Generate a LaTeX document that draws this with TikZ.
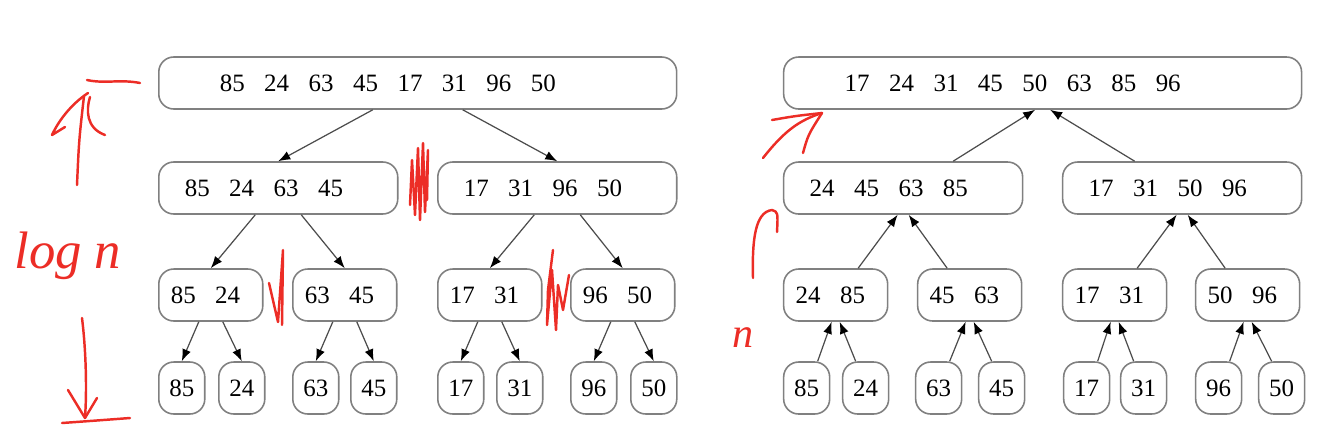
\documentclass[tikz,border=0pt]{standalone}
\usepackage{fontspec}
\setmainfont{Liberation Serif}
\usetikzlibrary{arrows.meta}
\definecolor{pen}{RGB}{236,45,38}
\definecolor{boxline}{RGB}{128,128,128}
\newcommand\kg{\hspace{0.39cm}}
\tikzset{
  keybox/.style={draw=boxline,line width=0.9pt,rounded corners=0.3cm,anchor=west,
    minimum height=1.04cm,text height=0.34cm,text depth=0cm,
    font=\fontsize{14.2pt}{17pt}\selectfont,align=left},
  rootbox/.style={keybox,text width=7.92cm,inner xsep=1.22cm},
  halfbox/.style={keybox,text width=3.74cm,inner xsep=0.52cm},
  pairbox/.style={keybox,text width=1.6cm,inner xsep=0.24cm},
  leafbox/.style={keybox,text width=0.52cm,inner xsep=0.2cm,align=center},
  link/.style={draw=black!70,line width=0.7pt,-{Latex[black,length=0.24cm,width=0.18cm]}},
  scrawl/.style={draw=pen,line width=1.4pt,line cap=round,line join=round},
  scribble/.style={text=pen,font=\fontsize{30pt}{32pt}\selectfont\itshape,inner sep=0pt}
}
\begin{document}
\begin{tikzpicture}[x=0.02cm,y=-0.02cm]
  \useasboundingbox (0,0) rectangle (1318,434);
  % split
  \node[rootbox] (sRoot) at (158,83) {85\kg 24\kg 63\kg 45\kg 17\kg 31\kg 96\kg 50};
  \node[halfbox] (sL) at (158,188) {85\kg 24\kg 63\kg 45};
  \node[halfbox] (sR) at (437,188) {17\kg 31\kg 96\kg 50};
  \node[pairbox] (sLL) at (158,295) {85\kg 24};
  \node[pairbox] (sLR) at (292,295) {63\kg 45};
  \node[pairbox] (sRL) at (437,295) {17\kg 31};
  \node[pairbox] (sRR) at (570,295) {96\kg 50};
  \foreach \k/\x [count=\i] in {85/158,24/218,63/292,45/350,17/437,31/496,96/570,50/630}
    \node[leafbox] (s\i) at (\x,388) {\k};
  \draw[link] ([xshift=-0.9cm]sRoot.south) -- (sL.north);
  \draw[link] ([xshift=0.9cm]sRoot.south) -- (sR.north);
  \foreach \p in {L,R} {
    \draw[link] ([xshift=-0.46cm]s\p.south) -- (s\p L.north);
    \draw[link] ([xshift=0.46cm]s\p.south) -- (s\p R.north);
  }
  \foreach \p/\a/\b in {LL/1/2,LR/3/4,RL/5/6,RR/7/8} {
    \draw[link] ([xshift=-0.24cm]s\p.south) -- (s\a.north);
    \draw[link] ([xshift=0.24cm]s\p.south) -- (s\b.north);
  }
  % merge
  \begin{scope}[xshift=12.5cm]
    \node[rootbox] (mRoot) at (158,83) {17\kg 24\kg 31\kg 45\kg 50\kg 63\kg 85\kg 96};
    \node[halfbox] (mL) at (158,188) {24\kg 45\kg 63\kg 85};
    \node[halfbox] (mR) at (437,188) {17\kg 31\kg 50\kg 96};
    \node[pairbox] (mLL) at (158,295) {24\kg 85};
    \node[pairbox] (mLR) at (292,295) {45\kg 63};
    \node[pairbox] (mRL) at (437,295) {17\kg 31};
    \node[pairbox] (mRR) at (570,295) {50\kg 96};
    \foreach \k/\x [count=\i] in {85/158,24/217,63/290,45/353,17/438,31/495,96/570,50/633}
      \node[leafbox] (m\i) at (\x,388) {\k};
  \end{scope}
  \draw[link] ([xshift=1cm]mL.north) -- ([xshift=-0.15cm]mRoot.south);
  \draw[link] ([xshift=-0.95cm]mR.north) -- ([xshift=0.15cm]mRoot.south);
  \foreach \p in {L,R} {
    \draw[link] ([xshift=0.45cm]m\p L.north) -- ([xshift=-0.11cm]m\p.south);
    \draw[link] ([xshift=-0.45cm]m\p R.north) -- ([xshift=0.11cm]m\p.south);
  }
  \foreach \p/\a/\b in {LL/1/2,LR/3/4,RL/5/6,RR/7/8} {
    \draw[link] ([xshift=0.22cm]m\a.north) -- ([xshift=-0.08cm]m\p.south);
    \draw[link] ([xshift=-0.2cm]m\b.north) -- ([xshift=0.08cm]m\p.south);
  }
  % notes in red
  \node[scribble,anchor=base west] (logn) at (14,268) {log n};
  \node[scribble,anchor=base west,font=\fontsize{24pt}{26pt}\selectfont\itshape] (perlevel) at (732,347) {n};
  \draw[scrawl] (87,80) .. controls (105,84) and (120,79) .. (140,83);
  \draw[scrawl] (77,185) .. controls (79,140) .. (84,96);
  \draw[scrawl] (65,127) -- (52,135) .. controls (58,122) and (70,105) .. (88,93);
  \draw[scrawl] (90,97) .. controls (86,110) and (86,128) .. (105,135);
  \draw[scrawl] (82,318) .. controls (86,350) and (87,390) .. (85,418);
  \draw[scrawl] (68,390) -- (85,418) -- (97,398);
  \draw[scrawl] (62,423) .. controls (90,421) .. (130,418);
  \draw[scrawl] (410,205) -- (412,160) -- (415,215) -- (418,148) -- (420,220) -- (423,143) -- (425,212) -- (428,150) -- (427,200);
  \draw[scrawl] (269,283) -- (278,322) -- (283,250) -- (282,325);
  \draw[scrawl] (553,250) -- (548,290) -- (547,325) -- (552,270) -- (556,330) -- (558,285) -- (563,310) -- (569,275);
  \draw[scrawl] (763,158) .. controls (785,130) and (800,120) .. (822,113);
  \draw[scrawl] (772,120) .. controls (795,116) .. (822,113);
  \draw[scrawl] (803,153) .. controls (808,135) .. (822,113);
  \draw[scrawl] (753,278) .. controls (752,240) and (755,212) .. (772,210) .. controls (778,212) .. (777,232);
\end{tikzpicture}
\end{document}
